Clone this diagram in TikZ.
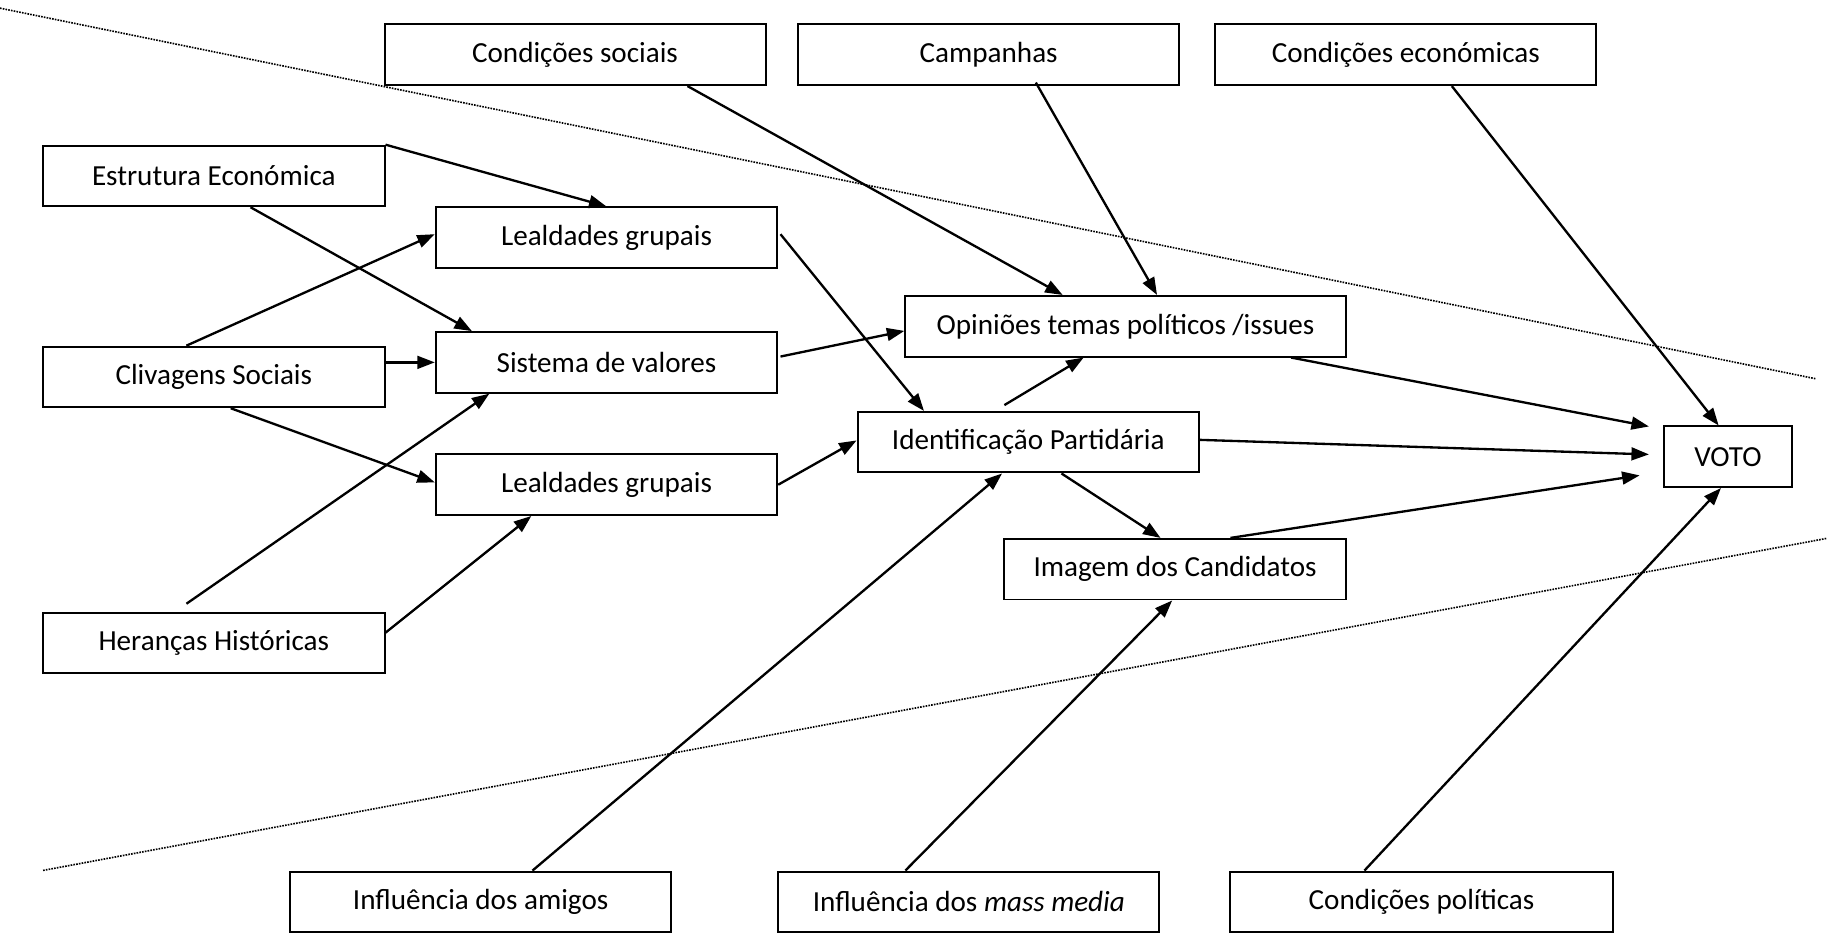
\documentclass[tikz,border=0pt]{standalone}
\usepackage{fontspec}
\setmainfont{Carlito}
\usetikzlibrary{arrows.meta}

\begin{document}
\begin{tikzpicture}[x=1pt,y=-1pt,
    box/.style={draw,line width=1.7pt,minimum height=52pt,inner sep=0pt,font=\fontsize{25}{30}\selectfont},
    arr/.style={line width=2pt,-{Triangle[length=15pt,width=11pt]}},
    sep/.style={line width=1.4pt,densely dotted}]
            \useasboundingbox (0,0) rectangle (1568,801);
            \node (cs) at (493.5,47) [box,minimum width=327pt] {Condições sociais};
            \node (cp) at (848.5,47) [box,minimum width=327pt] {Campanhas};
            \node (ce) at (1206.5,47) [box,minimum width=327pt] {Condições económicas};
            \node (ee) at (183.5,151) [box,minimum width=293pt] {Estrutura Económica};
            \node (lg1) at (520.5,204) [box,minimum width=293pt] {Lealdades grupais};
            \node (sv) at (520.5,311) [box,minimum width=293pt] {Sistema de valores};
            \node (cv) at (183.5,323.5) [box,minimum width=293pt] {Clivagens Sociais};
            \node (lg2) at (520.5,416) [box,minimum width=293pt] {Lealdades grupais};
            \node (hh) at (183.5,552) [box,minimum width=293pt] {Heranças Históricas};
            \node (op) at (966,280) [box,minimum width=378pt] {Opiniões temas políticos /issues};
            \node (ip) at (882.5,379.5) [box,minimum width=293pt] {Identificação Partidária};
            \node (ic) at (1008.5,488.5) [box,minimum width=293pt] {Imagem dos Candidatos};
            \node (vt) at (1483,392) [box,minimum width=110pt] {VOTO};
            \node (ia) at (412.5,774) [box,minimum width=327pt] {Influência dos amigos};
            \node (im) at (831.5,774) [box,minimum width=327pt] {Influência dos \textit{mass media}};
            \node (pol) at (1220,774) [box,minimum width=328pt] {Condições políticas};

            \coordinate (u1) at (0,7);
            \coordinate (u2) at (1558,325);
            \coordinate (l1) at (37,747);
            \coordinate (l2) at (1568,462);
            \draw[sep] (u1) -- (u2) (l1) -- (l2);

            \draw[arr] (ee.north east) -- (lg1.north);
            \draw[arr] ([xshift=31.5pt]ee.south) -- ([xshift=-115.5pt]sv.north);
            \draw[arr] ([xshift=-23.5pt]cv.north) -- ([yshift=3pt]lg1.west);
            \draw[arr] ([yshift=12.5pt]cv.east) -- (sv.west);
            \draw[arr] ([xshift=14.5pt]cv.south) -- ([yshift=2pt]lg2.west);
            \draw[arr] ([xshift=-23.5pt,yshift=7pt]hh.north) -- ([xshift=-100.5pt]sv.south);
            \draw[arr] ([yshift=9pt]hh.east) -- ([xshift=-64.5pt]lg2.south);
            \draw[arr] ([xshift=2pt,yshift=3pt]lg1.east) -- ([xshift=-89.5pt]ip.north);
            \draw[arr] ([xshift=2pt,yshift=5pt]sv.east) -- ([yshift=-4pt]op.west);
            \draw[arr] (lg2.east) -- ([yshift=1.5pt]ip.west);
            \draw[arr] ([xshift=96.5pt]cs.south) -- ([xshift=-54pt]op.north);
            \draw[arr] ([xshift=40.5pt,yshift=3pt]cp.south) -- ([xshift=27pt]op.north);
            \draw[arr] ([xshift=39.5pt]ce.south) -- ([xshift=-8pt]vt.north);
            \draw[arr] ([xshift=142pt]op.south) -- ([xshift=-12pt,yshift=26pt]vt.west);
            \draw[arr] ([yshift=2pt]ip.east) -- ([xshift=-12pt,yshift=2pt]vt.west);
            \draw[arr] ([xshift=-20.5pt,yshift=5pt]ip.north) -- ([xshift=-36pt]op.south);
            \draw[arr] ([xshift=28.5pt]ip.south) -- ([xshift=-12.5pt]ic.north);
            \draw[arr] ([xshift=47.5pt]ic.north) -- ([xshift=-20pt,yshift=-16pt]vt.west);
            \draw[arr] ([xshift=44.5pt]ia.north) -- ([xshift=-22.5pt]ip.south);
            \draw[arr] ([xshift=-54.5pt]im.north) -- ([xshift=-2.5pt]ic.south);
            \draw[arr] ([xshift=-49pt]pol.north) -- ([xshift=-6pt]vt.south);
        \end{tikzpicture}
\end{document}
